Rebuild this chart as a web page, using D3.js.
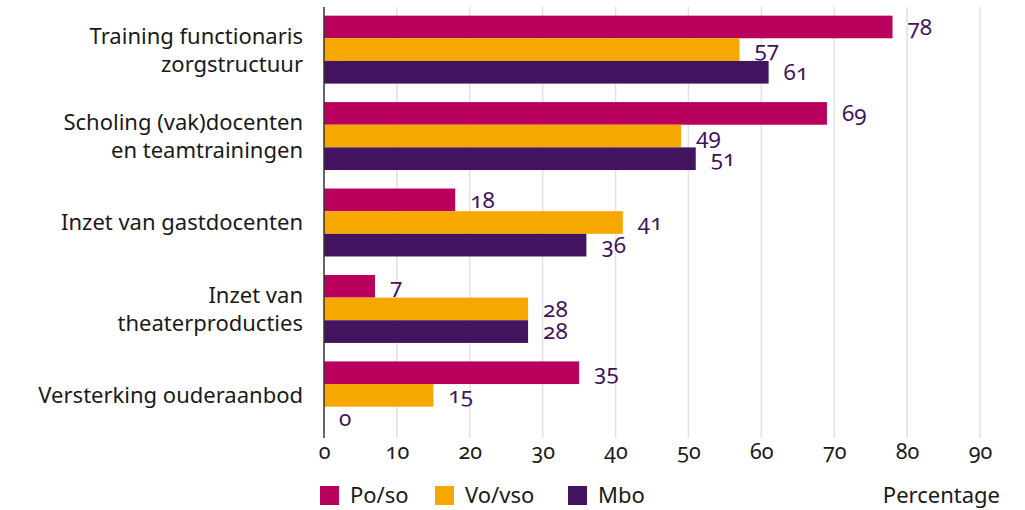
<!DOCTYPE html>
<html>
<head>
<meta charset="utf-8">
<script src="https://cdn.jsdelivr.net/npm/d3@7"></script>
<style>
  body { margin: 0; background: #fff; }
  text { font-family: "Noto Sans", sans-serif; font-variant-numeric: oldstyle-nums; }
</style>
</head>
<body>
<script>
let categories = [
    ["Training functionaris", "zorgstructuur"],
    ["Scholing (vak)docenten", "en teamtrainingen"],
    ["Inzet van gastdocenten"],
    ["Inzet van", "theaterproducties"],
    ["Versterking ouderaanbod"]
];
let series = ["Po/so", "Vo/vso", "Mbo"];
let po_so = [78, 69, 18, 7, 35];
let vo_vso = [57, 49, 41, 28, 15];
let mbo = [61, 51, 36, 28, 0];
let ticks = [0, 10, 20, 30, 40, 50, 60, 70, 80, 90];
let colors = ["#b8005c", "#f7a800", "#42145f"];

let values = [po_so, vo_vso, mbo];
let width = 1025, height = 510;

let svg = d3.select("body").append("svg")
    .attr("width", width)
    .attr("height", height);

let x = d3.scaleLinear().domain([0, 90]).range([324, 980]);
let y = d3.scaleBand()
    .domain(d3.range(categories.length))
    .range([7, 438])
    .paddingInner(0.214)
    .paddingOuter(0.1);
let ySub = d3.scaleBand()
    .domain(d3.range(series.length))
    .range([0, y.bandwidth()]);

// gridlines
svg.selectAll(".grid")
    .data(ticks.slice(1))
    .enter().append("line")
    .attr("x1", d => x(d)).attr("x2", d => x(d))
    .attr("y1", 7).attr("y2", 438)
    .attr("stroke", "#e2e2e2")
    .attr("stroke-width", 1.5);

// bars
let groups = svg.selectAll(".grp")
    .data(categories)
    .enter().append("g")
    .attr("transform", (d, i) => "translate(0," + y(i) + ")");

groups.each(function (d, i) {
    let g = d3.select(this);
    series.forEach(function (s, j) {
        let v = values[j][i];
        g.append("rect")
            .attr("x", x(0))
            .attr("y", ySub(j))
            .attr("width", x(v) - x(0))
            .attr("height", ySub.bandwidth())
            .attr("fill", colors[j]);
        g.append("text")
            .attr("x", x(v) + 15)
            .attr("y", ySub(j) + ySub.bandwidth() / 2)
            .attr("dy", "0.34em")
            .attr("font-size", 22.5)
            .attr("fill", "#42145f")
            .text(v);
    });
    let lab = g.append("text")
        .attr("text-anchor", "end")
        .attr("font-size", 22)
        .attr("fill", "#1a1a1a");
    let n = d.length;
    d.forEach(function (line, k) {
        lab.append("tspan")
            .attr("x", 303)
            .attr("y", y.bandwidth() / 2 + (k - (n - 1) / 2) * 28)
            .attr("dy", "0.36em")
            .text(line);
    });
});

// vertical axis line
svg.append("line")
    .attr("x1", x(0)).attr("x2", x(0))
    .attr("y1", 7).attr("y2", 438)
    .attr("stroke", "#333")
    .attr("stroke-width", 1.5);

// x tick labels
let xAxis = d3.axisBottom(x).tickValues(ticks).tickSize(0).tickPadding(0);
let ax = svg.append("g")
    .attr("transform", "translate(0,444)")
    .call(xAxis);
ax.select(".domain").remove();
ax.selectAll("text")
    .attr("font-size", 21.5)
    .attr("fill", "#1a1a1a")
    .attr("font-family", null);

svg.append("text")
    .attr("x", 1000)
    .attr("y", 503)
    .attr("text-anchor", "end")
    .attr("font-size", 22)
    .attr("fill", "#1a1a1a")
    .text("Percentage");

// legend
let legendX = [320, 435, 568];
let legend = svg.selectAll(".leg")
    .data(series)
    .enter().append("g")
    .attr("transform", (d, i) => "translate(" + legendX[i] + ",486)");
legend.append("rect")
    .attr("width", 19).attr("height", 19)
    .attr("fill", (d, i) => colors[i]);
legend.append("text")
    .attr("x", 30).attr("y", 9.5)
    .attr("dy", "0.36em")
    .attr("font-size", 22)
    .attr("fill", "#1a1a1a")
    .text(d => d);
</script>
</body>
</html>
